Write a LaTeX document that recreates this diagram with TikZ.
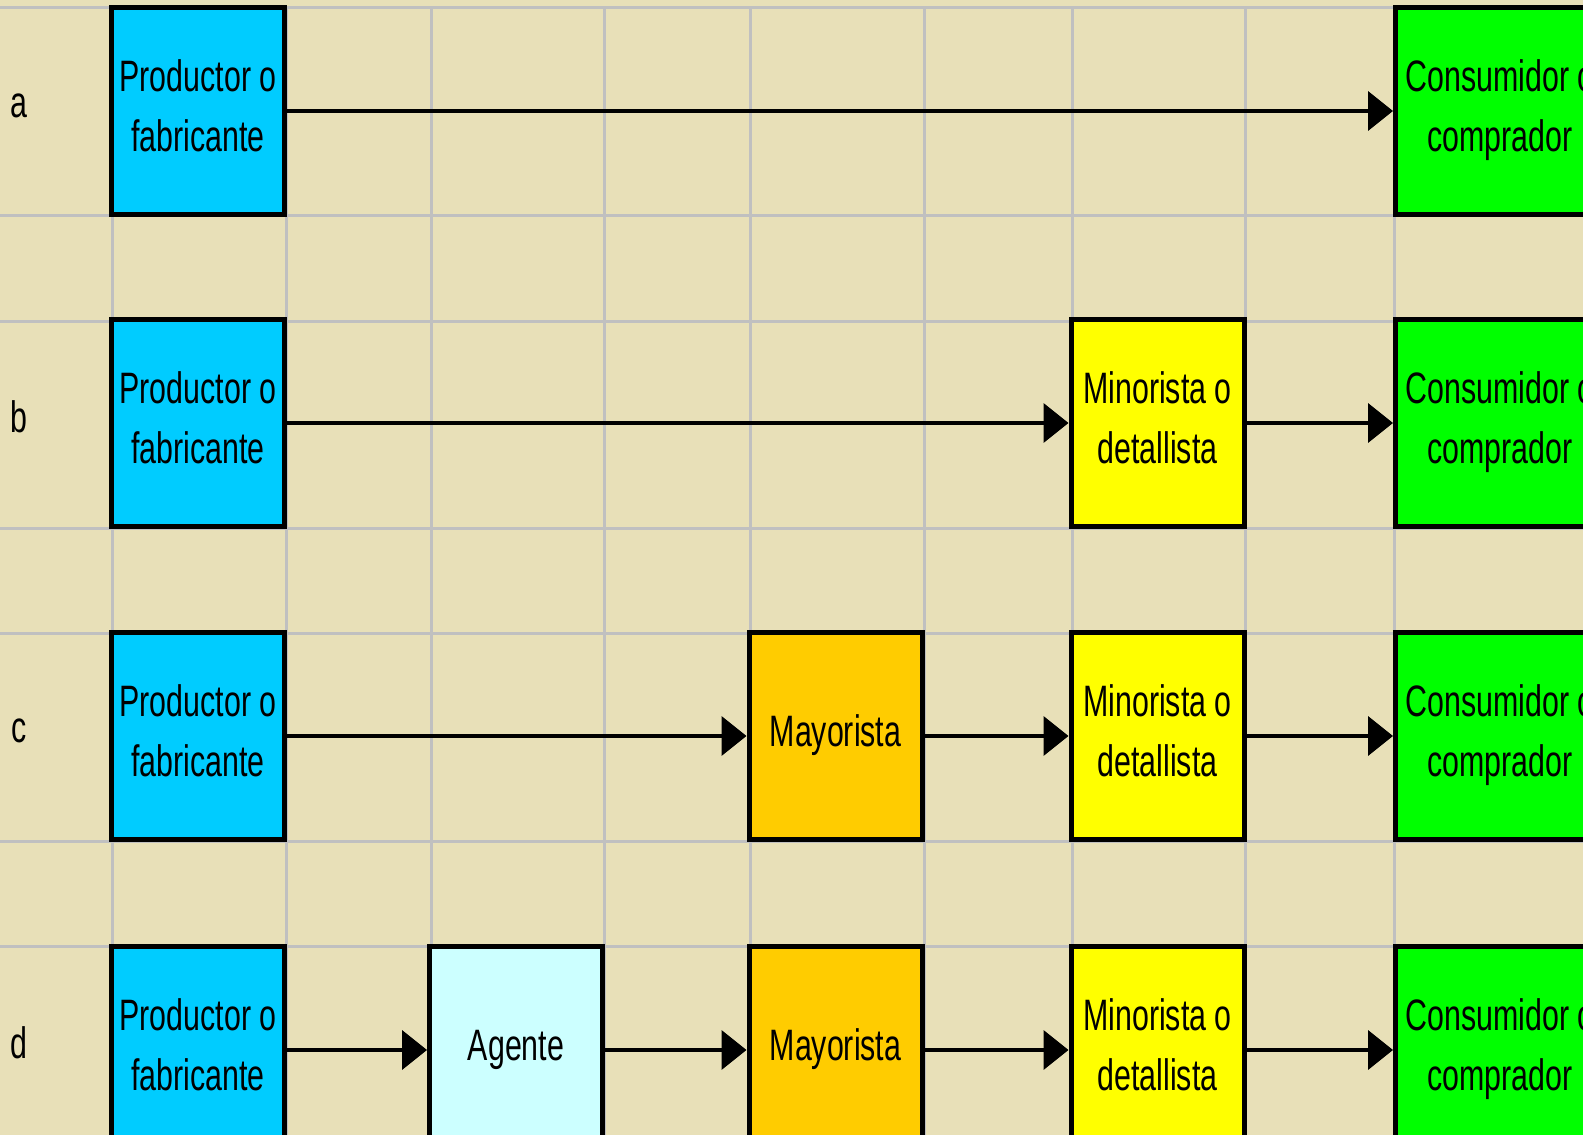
\documentclass[tikz,border=0pt]{standalone}
\usepackage{fontspec}
\newfontfamily\narrowfont[FakeStretch=0.69]{Liberation Sans}
\usetikzlibrary{arrows.meta}
\definecolor{bg}{HTML}{E8E0B8}
\definecolor{gridc}{HTML}{C0C0C0}
\definecolor{prodc}{HTML}{00CCFF}
\definecolor{agentc}{HTML}{CCFFFF}
\definecolor{mayorc}{HTML}{FFCC00}
\definecolor{minorc}{HTML}{FFFF00}
\definecolor{consc}{HTML}{00FF00}
\newcommand\sline{\rule[-19pt]{0pt}{59pt}}
\begin{document}
\begin{tikzpicture}[x=1pt,y=-1pt,
  txt/.style={font=\narrowfont\fontsize{44}{60}\selectfont, align=center, inner sep=0pt},
  box/.style={txt, draw=black, line width=5pt, minimum width=173pt, minimum height=207pt},
  widebox/.style={box, minimum width=209pt},
  conn/.style={line width=4pt, -{Triangle[length=25pt,width=39pt]}},
  gridline/.style={draw=gridc, line width=3pt}]
\useasboundingbox (0,0) rectangle (1583,1135);
\clip (0,0) rectangle (1583,1135);
\fill[bg] (0,0) rectangle (1583,1135);
\foreach \yy in {7,215,321,528,633,841,946}
  \draw[gridline] (0,\yy) -- (1583,\yy);
\foreach \xx in {112,286,431,604,750,924,1072,1245,1394}
  \draw[gridline] (\xx,7) -- (\xx,1135);
% labels
\node[txt] (la) at (19,106) {a};
\node[txt] (lb) at (19,417) {b};
\node[txt] (lc) at (19,731) {c};
\node[txt] (ld) at (19,1043) {d};
% row a
\node[box, fill=prodc] (pa) at (198,111) {\sline Productor o\\\sline fabricante};
\node[widebox, fill=consc] (ca) at (1500,111) {\sline Consumidor o\\\sline comprador};
% row b
\node[box, fill=prodc] (pb) at (198,423) {\sline Productor o\\\sline fabricante};
\node[box, fill=minorc] (mb) at (1157.5,423) {\sline Minorista o\\\sline detallista};
\node[widebox, fill=consc] (cb) at (1500,423) {\sline Consumidor o\\\sline comprador};
% row c
\node[box, fill=prodc] (pc) at (198,736) {\sline Productor o\\\sline fabricante};
\node[box, fill=mayorc] (yc) at (835.5,736) {\sline Mayorista};
\node[box, fill=minorc] (mc) at (1157.5,736) {\sline Minorista o\\\sline detallista};
\node[widebox, fill=consc] (cc) at (1500,736) {\sline Consumidor o\\\sline comprador};
% row d
\node[box, fill=prodc] (pd) at (198,1050) {\sline Productor o\\\sline fabricante};
\node[box, fill=agentc] (ad) at (516,1050) {\sline Agente};
\node[box, fill=mayorc] (yd) at (835.5,1050) {\sline Mayorista};
\node[box, fill=minorc] (md) at (1157.5,1050) {\sline Minorista o\\\sline detallista};
\node[widebox, fill=consc] (cd) at (1500,1050) {\sline Consumidor o\\\sline comprador};
% connectors
\draw[conn] (pa) -- (ca);
\draw[conn] (pb) -- (mb);
\draw[conn] (mb) -- (cb);
\draw[conn] (pc) -- (yc);
\draw[conn] (yc) -- (mc);
\draw[conn] (mc) -- (cc);
\draw[conn] (pd) -- (ad);
\draw[conn] (ad) -- (yd);
\draw[conn] (yd) -- (md);
\draw[conn] (md) -- (cd);
\end{tikzpicture}
\end{document}
